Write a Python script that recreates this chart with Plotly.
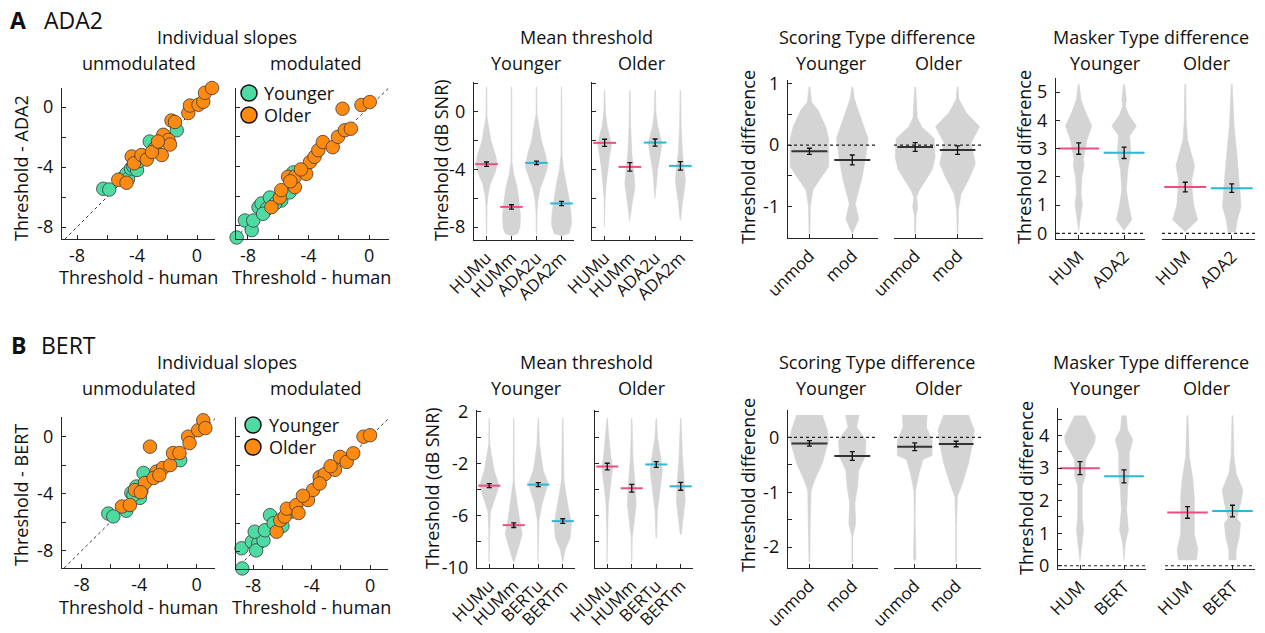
import plotly.graph_objects as go

W, H = 1265, 633
FONT = "Open Sans"
FS = 18
TXT = "#111111"
AX = "#262626"
GREEN = "#4ddba3"
ORANGE = "#ff8a12"
PINK = "#ea4f7f"
CYAN = "#28b8d8"
VGRAY = "#d4d4d4"
MEANGRAY = "#333333"

# ---------------- scatter data (x = human threshold, y = model threshold) -------------
A_unmod_young_x = [-6.25, -5.85, -4.95, -4.7, -4.6, -4.4, -4.25, -4.0, -3.85, -3.6, -3.15, -1.35]
A_unmod_young_y = [-5.45, -5.5, -4.75, -4.45, -4.8, -4.1, -3.95, -4.2, -3.6, -3.25, -2.3, -1.55]
A_unmod_old_x = [-5.25, -4.7, -4.35, -4.2, -3.7, -3.35, -2.8, -2.35, -2.25, -1.9, -1.8, -1.7, -1.47,
                 -0.58, -0.47, 0.1, 0.42, 0.53, 1.0, -3.0, -2.6]
A_unmod_old_y = [-4.85, -5.05, -3.3, -3.75, -3.2, -3.5, -2.75, -3.2, -1.85, -2.2, -2.5, -0.9, -1.0,
                 -0.4, 0.1, 0.15, 0.35, 0.95, 1.27, -3.0, -2.3]
A_mod_young_x = [-8.75, -8.8, -8.2, -7.75, -7.65, -7.3, -7.1, -6.75, -6.55, -5.8, -5.25, -5.0, -7.0, -6.2]
A_mod_young_y = [-8.8, -8.45, -7.65, -8.3, -7.65, -6.75, -6.5, -6.85, -6.1, -6.3, -5.75, -4.4, -7.2, -6.5]
A_mod_old_x = [-6.45, -5.9, -5.8, -5.35, -4.9, -4.9, -4.15, -3.9, -3.6, -3.35, -3.05, -2.4, -2.05,
               -1.6, -1.2, -1.75, -0.5, 0.05, -4.5, -5.2]
A_mod_old_y = [-6.75, -6.1, -5.6, -4.7, -5.4, -4.7, -4.5, -3.7, -3.35, -2.9, -2.35, -2.7, -2.0,
               -1.55, -1.45, -0.1, 0.15, 0.35, -4.2, -5.0]

B_unmod_young_x = [-6.15, -5.8, -4.9, -4.55, -3.95, -4.2, -3.7, -1.15, -4.4, -3.85]
B_unmod_young_y = [-5.4, -5.6, -5.2, -3.95, -4.3, -3.5, -2.55, -1.65, -4.1, -3.8]
B_unmod_old_x = [-5.2, -4.65, -4.3, -3.6, -3.25, -2.8, -2.35, -1.85, -1.65, -1.2, -0.6, -0.5, 0.1,
                 0.45, 0.6, 1.1, -3.0, -2.6, -3.9]
B_unmod_old_y = [-4.9, -4.8, -3.75, -3.25, -0.7, -2.45, -2.2, -2.0, -1.15, -1.15, 0.0, -0.45, 0.45,
                 1.15, 0.6, 1.4, -2.9, -2.7, -3.9]
B_mod_young_x = [-8.75, -8.8, -8.1, -7.65, -7.8, -7.3, -7.9, -7.2, -6.85, -6.0, -5.4, -6.6]
B_mod_young_y = [-9.15, -7.75, -7.3, -7.4, -7.9, -7.2, -6.6, -6.5, -5.45, -6.2, -5.2, -6.0]
B_mod_old_x = [-6.4, -6.15, -5.85, -5.7, -5.05, -4.9, -4.25, -3.9, -3.45, -3.1, -3.45, -2.4, -2.05,
               -1.6, -1.15, -0.45, 0.0, -4.6, -2.7]
B_mod_old_y = [-6.6, -5.8, -5.55, -5.0, -4.75, -5.3, -4.4, -3.7, -2.8, -2.6, -3.25, -2.3, -1.4,
               -1.75, -1.15, 0.0, 0.1, -4.1, -2.05]

# ---------------- category labels ----------------
A_mean_cats = ["HUMu", "HUMm", "ADA2u", "ADA2m"]
B_mean_cats = ["HUMu", "HUMm", "BERTu", "BERTm"]
score_cats = ["unmod", "mod"]
A_mask_cats = ["HUM", "ADA2"]
B_mask_cats = ["HUM", "BERT"]
legend_names = ["Younger", "Older"]

# ---------------- means and error bars ----------------
A_mean_young = [-3.63, -6.6, -3.54, -6.36]
A_mean_young_err = [0.15, 0.15, 0.12, 0.15]
A_mean_old = [-2.15, -3.82, -2.13, -3.75]
A_mean_old_err = [0.25, 0.3, 0.25, 0.3]
B_mean_young = [-3.68, -6.71, -3.6, -6.4]
B_mean_young_err = [0.15, 0.18, 0.15, 0.18]
B_mean_old = [-2.21, -3.88, -2.05, -3.73]
B_mean_old_err = [0.25, 0.3, 0.22, 0.3]
A_score_young = [-0.1, -0.24]
A_score_young_err = [0.05, 0.08]
A_score_old = [-0.03, -0.08]
A_score_old_err = [0.07, 0.07]
B_score_young = [-0.11, -0.34]
B_score_young_err = [0.05, 0.08]
B_score_old = [-0.17, -0.12]
B_score_old_err = [0.07, 0.05]
A_mask_young = [3.0, 2.85]
A_mask_young_err = [0.2, 0.2]
A_mask_old = [1.64, 1.6]
A_mask_old_err = [0.17, 0.15]
B_mask_young = [3.0, 2.75]
B_mask_young_err = [0.2, 0.2]
B_mask_old = [1.64, 1.68]
B_mask_old_err = [0.18, 0.18]

# ---------------- violin outlines: levels (y) and half-widths (category units) ----------------
A_mean_young_vy = [
    [1.75, -0.3, -1.0, -2.0, -3.0, -3.6, -4.2, -5.0, -5.8, -6.5, -8.5],
    [1.75, -3.5, -4.4, -5.2, -6.2, -7.2, -8.0, -8.45, -8.6],
    [1.75, -0.2, -1.0, -2.0, -3.0, -3.8, -4.5, -5.3, -6.2, -7.0, -8.5],
    [1.75, -3.0, -4.0, -5.0, -6.0, -7.0, -7.8, -8.45, -8.6]]
A_mean_young_vw = [
    [0.01, 0.02, 0.08, 0.18, 0.36, 0.43, 0.35, 0.15, 0.06, 0.02, 0.01],
    [0.01, 0.02, 0.1, 0.22, 0.3, 0.36, 0.34, 0.25, 0.0],
    [0.01, 0.02, 0.1, 0.2, 0.36, 0.45, 0.32, 0.15, 0.05, 0.02, 0.01],
    [0.01, 0.02, 0.08, 0.2, 0.3, 0.38, 0.4, 0.3, 0.0]]
A_mean_old_vy = [
    [1.5, 0.0, -1.0, -1.8, -2.3, -3.0, -4.0, -5.0, -6.0, -8.0],
    [1.5, -1.0, -2.9, -4.0, -5.0, -5.5, -6.2, -7.0, -7.6],
    [1.5, 0.0, -1.0, -1.8, -2.2, -3.0, -4.0, -5.0, -6.0],
    [1.5, -1.0, -2.8, -3.8, -4.8, -5.5, -6.3, -7.5]]
A_mean_old_vw = [
    [0.01, 0.03, 0.1, 0.22, 0.27, 0.2, 0.12, 0.06, 0.02, 0.01],
    [0.01, 0.03, 0.08, 0.15, 0.2, 0.18, 0.1, 0.04, 0.01],
    [0.01, 0.03, 0.1, 0.22, 0.27, 0.2, 0.1, 0.05, 0.01],
    [0.01, 0.03, 0.08, 0.15, 0.2, 0.15, 0.08, 0.01]]
B_mean_young_vy = [
    [1.5, -0.5, -1.0, -2.5, -3.7, -4.8, -5.7, -7.0, -9.5],
    [1.5, -3.3, -4.1, -6.1, -7.4, -8.7, -9.5],
    [1.5, -0.46, -1.5, -2.5, -3.5, -5.1, -6.4, -9.5],
    [1.5, -3.3, -5.1, -6.6, -7.7, -8.6, -9.5]]
B_mean_young_vw = [
    [0.01, 0.02, 0.06, 0.2, 0.4, 0.2, 0.05, 0.02, 0.01],
    [0.01, 0.02, 0.07, 0.22, 0.35, 0.15, 0.02],
    [0.01, 0.05, 0.12, 0.2, 0.4, 0.15, 0.03, 0.01],
    [0.01, 0.05, 0.2, 0.35, 0.3, 0.1, 0.01]]
B_mean_old_vy = [
    [1.5, 0.57, -1.5, -2.3, -3.85, -5.1, -7.0, -9.5],
    [1.5, -1.5, -3.85, -5.1, -6.4, -7.7, -9.5],
    [1.5, 0.06, -1.75, -2.5, -4.1, -5.6, -7.7],
    [1.5, -1.5, -3.6, -4.8, -6.1, -7.4]]
B_mean_old_vw = [
    [0.01, 0.04, 0.15, 0.22, 0.12, 0.05, 0.02, 0.01],
    [0.01, 0.05, 0.15, 0.18, 0.1, 0.02, 0.01],
    [0.01, 0.05, 0.2, 0.25, 0.15, 0.05, 0.01],
    [0.01, 0.07, 0.15, 0.18, 0.1, 0.02]]

A_score_young_vy = [
    [0.95, 0.7, 0.57, 0.3, 0.1, -0.35, -0.55, -0.73, -1.0, -1.43],
    [0.95, 0.75, 0.4, 0.11, -0.24, -0.55, -0.95, -1.2, -1.43]]
A_score_young_vw = [
    [0.01, 0.05, 0.2, 0.38, 0.45, 0.45, 0.25, 0.08, 0.02, 0.01],
    [0.01, 0.05, 0.22, 0.37, 0.3, 0.22, 0.07, 0.15, 0.01]]
A_score_old_vy = [
    [0.95, 0.45, 0.3, 0.11, -0.2, -0.4, -0.73, -0.85, -1.0, -1.15, -1.43],
    [0.95, 0.75, 0.53, 0.3, 0.04, -0.3, -0.5, -0.8, -1.05, -1.43]]
A_score_old_vw = [
    [0.01, 0.05, 0.15, 0.45, 0.47, 0.4, 0.1, 0.03, 0.06, 0.02, 0.01],
    [0.01, 0.03, 0.2, 0.52, 0.32, 0.42, 0.3, 0.08, 0.02, 0.01]]
B_score_young_vy = [
    [0.41, 0.13, -0.05, -0.47, -0.78, -0.97, -1.5, -2.26],
    [0.41, 0.19, -0.05, -0.35, -0.6, -0.9, -1.2, -1.57, -1.8, -2.26]]
B_score_young_vw = [
    [0.3, 0.42, 0.45, 0.3, 0.12, 0.04, 0.02, 0.01],
    [0.16, 0.1, 0.32, 0.3, 0.15, 0.12, 0.06, 0.08, 0.01, 0.01]]
B_score_old_vy = [
    [0.41, 0.19, -0.05, -0.33, -0.4, -0.66, -0.97, -1.5, -2.2, -2.26],
    [0.41, 0.13, -0.1, -0.47, -0.84, -1.08, -1.6, -2.26]]
B_score_old_vw = [
    [0.3, 0.28, 0.42, 0.42, 0.2, 0.1, 0.02, 0.01, 0.03, 0.0],
    [0.3, 0.44, 0.4, 0.3, 0.15, 0.03, 0.01, 0.01]]

A_mask_young_vy = [
    [5.28, 4.74, 4.3, 3.8, 3.3, 2.61, 2.42, 2.0, 1.42, 1.0, 0.48, 0.1],
    [5.28, 4.75, 4.5, 4.2, 3.8, 3.45, 2.85, 2.25, 1.54, 1.0, 0.48, 0.1]]
A_mask_young_vw = [
    [0.01, 0.05, 0.15, 0.29, 0.18, 0.1, 0.12, 0.07, 0.05, 0.08, 0.03, 0.0],
    [0.01, 0.05, 0.03, 0.1, 0.27, 0.12, 0.15, 0.08, 0.05, 0.1, 0.17, 0.0]]
A_mask_old_vy = [
    [5.28, 4.0, 3.3, 2.4, 1.9, 1.5, 1.0, 0.48, 0.06],
    [5.28, 3.8, 2.61, 1.9, 1.42, 0.95, 0.48, 0.06]]
A_mask_old_vw = [
    [0.01, 0.02, 0.05, 0.2, 0.14, 0.15, 0.18, 0.27, 0.0],
    [0.01, 0.05, 0.12, 0.15, 0.18, 0.2, 0.12, 0.08]]
B_mask_young_vy = [
    [4.62, 3.98, 3.77, 3.26, 2.75, 2.44, 1.5, 1.1, 0.5, 0.14],
    [4.62, 4.18, 3.88, 3.46, 2.84, 2.33, 1.72, 1.1, 0.7, 0.18]]
B_mask_young_vw = [
    [0.12, 0.35, 0.33, 0.12, 0.12, 0.05, 0.05, 0.08, 0.03, 0.0],
    [0.05, 0.08, 0.2, 0.12, 0.12, 0.08, 0.06, 0.1, 0.03, 0.0]]
B_mask_old_vy = [
    [4.62, 3.36, 2.64, 2.12, 1.5, 0.99, 0.5, 0.18],
    [4.62, 3.4, 2.84, 2.33, 1.92, 1.46, 1.31, 0.89, 0.48, 0.18]]
B_mask_old_vw = [
    [0.01, 0.04, 0.12, 0.15, 0.15, 0.15, 0.23, 0.2],
    [0.01, 0.03, 0.08, 0.23, 0.18, 0.1, 0.18, 0.15, 0.08, 0.08]]

# ---------------- layout helpers ----------------
fig = go.Figure()
layout = {"shapes": []}


def ax_names(k):
    return ("x" if k == 1 else f"x{k}"), ("y" if k == 1 else f"y{k}")


def ax_keys(k):
    return ("xaxis" if k == 1 else f"xaxis{k}"), ("yaxis" if k == 1 else f"yaxis{k}")


def make_axes(k, box, xr, yr, xt, xtt, yt, ytt, show_y=True, xangle=0):
    x0, x1, y0, y1 = box
    xk, yk = ax_keys(k)
    xn, yn = ax_names(k)
    base = dict(showgrid=False, zeroline=False, linecolor=AX, linewidth=1.4,
                ticks="inside", ticklen=4, tickcolor=AX, tickwidth=1.2, automargin=False,
                tickfont=dict(family=FONT, size=FS, color=TXT))
    xfont = dict(family=FONT, size=FS if xangle == 0 else 17, color=TXT)
    layout[xk] = dict(base, domain=[x0 / W, x1 / W], range=xr, anchor=yn,
                      showline=True, tickmode="array", tickvals=xt, ticktext=xtt,
                      tickangle=xangle, ticklabelstandoff=0, tickfont=xfont)
    layout[yk] = dict(base, domain=[1 - y1 / H, 1 - y0 / H], range=yr, anchor=xn,
                      showline=show_y, tickmode="array", tickvals=yt if show_y else [],
                      ticktext=ytt if show_y else [], ticklabelstandoff=4)


def scatter_panel(k, young_x, young_y, old_x, old_y, xr, yr):
    xn, yn = ax_names(k)
    lo = max(xr[0], yr[0])
    hi = min(xr[1], yr[1])
    fig.add_trace(go.Scatter(x=[lo, hi], y=[lo, hi], mode="lines", xaxis=xn, yaxis=yn,
                             line=dict(color="#333333", width=1, dash="dot"),
                             showlegend=False, hoverinfo="skip"))
    for xs, ys, col in [(young_x, young_y, GREEN), (old_x, old_y, ORANGE)]:
        fig.add_trace(go.Scatter(x=xs, y=ys, mode="markers", xaxis=xn, yaxis=yn, cliponaxis=False,
                                 marker=dict(size=13.5, color=col,
                                             line=dict(color="#3a3a3a", width=0.8)),
                                 showlegend=False))


def violin_panel(k, vys, vws, means, errs, colors, hw):
    xn, yn = ax_names(k)
    for i, (ys, ws) in enumerate(zip(vys, vws)):
        c = i + 1
        xs = [c + w for w in ws] + [c - w for w in reversed(ws)]
        yy = list(ys) + list(reversed(ys))
        fig.add_trace(go.Scatter(x=xs, y=yy, mode="lines", fill="toself", fillcolor=VGRAY,
                                 line=dict(width=0.6, color=VGRAY), xaxis=xn, yaxis=yn,
                                 showlegend=False, hoverinfo="skip"))
    for i, (m, col) in enumerate(zip(means, colors)):
        c = i + 1
        fig.add_trace(go.Scatter(x=[c - hw, c + hw], y=[m, m], mode="lines",
                                 line=dict(color=col, width=2), xaxis=xn, yaxis=yn,
                                 showlegend=False, hoverinfo="skip"))
    fig.add_trace(go.Scatter(x=list(range(1, len(means) + 1)), y=means, mode="markers",
                             marker=dict(size=1, color="rgba(0,0,0,0)"),
                             error_y=dict(type="data", array=errs, color="#111111",
                                          thickness=1.3, width=2.5),
                             xaxis=xn, yaxis=yn, showlegend=False, hoverinfo="skip"))


def zero_line(k):
    xn, yn = ax_names(k)
    layout["shapes"].append(
        dict(type="line", xref=f"{xn} domain", yref=yn, x0=0, x1=1, y0=0, y1=0,
             line=dict(color="#222222", width=1.2, dash="dot"), layer="above"))


sc_ticks = [-8, -6, -4, -2, 0]
sc_text = ["-8", "", "-4", "", "0"]
blank5 = [""] * 5

# ================= ROW A =================
make_axes(1, (62, 215, 88, 239), [-9, 1.2], [-8.8, 1.27], sc_ticks, sc_text, sc_ticks, sc_text)
scatter_panel(1, A_unmod_young_x, A_unmod_young_y, A_unmod_old_x, A_unmod_old_y, [-9, 1.2], [-8.8, 1.27])
make_axes(2, (236, 389, 88, 239), [-8.79, 1.32], [-8.9, 1.3], sc_ticks, sc_text, sc_ticks, blank5)
scatter_panel(2, A_mod_young_x, A_mod_young_y, A_mod_old_x, A_mod_old_y, [-8.79, 1.32], [-8.9, 1.3])

mt_A = [-8, -6, -4, -2, 0, 2]
make_axes(3, (474, 574, 82, 240), [0.5, 4.5], [-8.9, 2.08], [1, 2, 3, 4], A_mean_cats,
          mt_A, ["-8", "", "-4", "", "0", ""], xangle=-45)
violin_panel(3, A_mean_young_vy, A_mean_young_vw, A_mean_young, A_mean_young_err,
             [PINK, PINK, CYAN, CYAN], 0.45)
make_axes(4, (592, 693, 82, 240), [0.5, 4.5], [-8.9, 2.08], [1, 2, 3, 4], A_mean_cats,
          mt_A, [""] * 6, xangle=-45)
violin_panel(4, A_mean_old_vy, A_mean_old_vw, A_mean_old, A_mean_old_err,
             [PINK, PINK, CYAN, CYAN], 0.45)

st_A = [-1.5, -1, -0.5, 0, 0.5, 1]
make_axes(5, (788, 878, 80, 238), [0.5, 2.6], [-1.51, 1.06], [1, 2], score_cats,
          st_A, ["", "-1", "", "0", "", "1"], xangle=-45)
violin_panel(5, A_score_young_vy, A_score_young_vw, A_score_young, A_score_young_err,
             [MEANGRAY, MEANGRAY], 0.42)
zero_line(5)
make_axes(6, (894, 983, 80, 238), [0.5, 2.6], [-1.51, 1.06], [1, 2], score_cats,
          st_A, [""] * 6, show_y=False, xangle=-45)
violin_panel(6, A_score_old_vy, A_score_old_vw, A_score_old, A_score_old_err,
             [MEANGRAY, MEANGRAY], 0.42)
zero_line(6)

mk_A = [0, 1, 2, 3, 4, 5]
make_axes(7, (1056, 1145, 78, 239), [0.5, 2.46], [-0.2, 5.5], [1, 2], A_mask_cats,
          mk_A, [str(v) for v in mk_A], xangle=-45)
violin_panel(7, A_mask_young_vy, A_mask_young_vw, A_mask_young, A_mask_young_err,
             [PINK, CYAN], 0.45)
zero_line(7)
make_axes(8, (1162, 1255, 78, 239), [0.5, 2.5], [-0.2, 5.5], [1, 2], A_mask_cats,
          mk_A, [""] * 6, show_y=False, xangle=-45)
violin_panel(8, A_mask_old_vy, A_mask_old_vw, A_mask_old, A_mask_old_err,
             [PINK, CYAN], 0.45)
zero_line(8)

# ================= ROW B =================
make_axes(9, (62, 215, 417, 568), [-9.37, 1.27], [-9.22, 1.38], sc_ticks, sc_text, sc_ticks, sc_text)
scatter_panel(9, B_unmod_young_x, B_unmod_young_y, B_unmod_old_x, B_unmod_old_y, [-9.37, 1.27], [-9.22, 1.38])
make_axes(10, (236, 388, 417, 569), [-9.18, 1.23], [-9.19, 1.37], sc_ticks, sc_text, sc_ticks, blank5)
scatter_panel(10, B_mod_young_x, B_mod_young_y, B_mod_old_x, B_mod_old_y, [-9.18, 1.23], [-9.19, 1.37])

mt_B = [-10, -8, -6, -4, -2, 0, 2]
make_axes(11, (477, 575, 410, 568), [0.5, 4.5], [-10, 2.13], [1, 2, 3, 4], B_mean_cats,
          mt_B, ["-10", "", "-6", "", "-2", "", "2"], xangle=-45)
violin_panel(11, B_mean_young_vy, B_mean_young_vw, B_mean_young, B_mean_young_err,
             [PINK, PINK, CYAN, CYAN], 0.45)
make_axes(12, (595, 693, 410, 568), [0.5, 4.5], [-10, 2.13], [1, 2, 3, 4], B_mean_cats,
          mt_B, [""] * 7, xangle=-45)
violin_panel(12, B_mean_old_vy, B_mean_old_vw, B_mean_old, B_mean_old_err,
             [PINK, PINK, CYAN, CYAN], 0.45)

st_B = [-2, -1.5, -1, -0.5, 0, 0.5]
make_axes(13, (788, 878, 410, 568), [0.5, 2.6], [-2.38, 0.5], [1, 2], score_cats,
          st_B, ["-2", "", "-1", "", "0", ""], xangle=-45)
violin_panel(13, B_score_young_vy, B_score_young_vw, B_score_young, B_score_young_err,
             [MEANGRAY, MEANGRAY], 0.42)
zero_line(13)
make_axes(14, (894, 981, 410, 568), [0.5, 2.6], [-2.38, 0.5], [1, 2], score_cats,
          st_B, [""] * 6, show_y=False, xangle=-45)
violin_panel(14, B_score_old_vy, B_score_old_vw, B_score_old, B_score_old_err,
             [MEANGRAY, MEANGRAY], 0.42)
zero_line(14)

mk_B = [0, 0.5, 1, 1.5, 2, 2.5, 3, 3.5, 4, 4.5]
mk_B_text = ["0", "", "1", "", "2", "", "3", "", "4", ""]
make_axes(15, (1058, 1146, 408, 569), [0.5, 2.5], [-0.1, 4.85], [1, 2], B_mask_cats,
          mk_B, mk_B_text, xangle=-45)
violin_panel(15, B_mask_young_vy, B_mask_young_vw, B_mask_young, B_mask_young_err,
             [PINK, CYAN], 0.45)
zero_line(15)
make_axes(16, (1165, 1255, 408, 569), [0.5, 2.5], [-0.1, 4.85], [1, 2], B_mask_cats,
          mk_B, [""] * 10, show_y=False, xangle=-45)
violin_panel(16, B_mask_old_vy, B_mask_old_vw, B_mask_old, B_mask_old_err,
             [PINK, CYAN], 0.45)
zero_line(16)

# ---------------- text annotations ----------------
ann = []


def text(x, y, s, size=FS, bold=False, angle=0, anchor="center"):
    ann.append(dict(x=x / W, y=1 - y / H, xref="paper", yref="paper", text=f"<b>{s}</b>" if bold else s,
                    showarrow=False, xanchor=anchor, yanchor="middle", textangle=angle,
                    font=dict(family=FONT, size=size, color=TXT)))


# ---------------- legend keys (drawn as paper-positioned keys) ----------------
for (cx, ty, tx) in [(249, 93, 262), (253, 425, 267)]:
    for j, (name, col) in enumerate(zip(legend_names, [GREEN, ORANGE])):
        cy = ty + j * 22
        layout["shapes"].append(dict(type="circle", xref="paper", yref="paper",
                                     x0=(cx - 8) / W, x1=(cx + 8) / W,
                                     y0=1 - (cy + 8) / H, y1=1 - (cy - 8) / H,
                                     fillcolor=col, line=dict(color="#111111", width=1.5)))
        text(tx, cy, name, anchor="left")

for dy, letter, model, mx in [(0, "A", "ADA2", 73), (325, "B", "BERT", 68)]:
    text(18, 20 + dy, letter, size=23, bold=True)
    text(mx, 20 + dy, model, size=23)
    text(227, 37 + dy, "Individual slopes")
    text(139, 63 + dy, "unmodulated")
    text(316, 63 + dy, "modulated")
    text(586, 37 + dy, "Mean threshold")
    text(526, 63 + dy, "Younger")
    text(642, 63 + dy, "Older")
    text(877, 37 + dy, "Scoring Type difference")
    text(831, 63 + dy, "Younger")
    text(939, 63 + dy, "Older")
    text(1151, 37 + dy, "Masker Type difference")
    text(1105, 63 + dy, "Younger")
    text(1207, 63 + dy, "Older")
    text(138, 277 + dy + (5 if dy else 0), "Threshold - human")
    text(311, 277 + dy + (5 if dy else 0), "Threshold - human")

text(21, 168, "Threshold - ADA2", angle=-90)
text(441, 160, "Threshold (dB SNR)", angle=-90)
text(748, 157, "Threshold difference", angle=-90)
text(1024, 157, "Threshold difference", angle=-90)
text(21, 495, "Threshold - BERT", angle=-90)
text(432, 488, "Threshold (dB SNR)", angle=-90)
text(748, 485, "Threshold difference", angle=-90)
text(1026, 488, "Threshold difference", angle=-90)

layout["annotations"] = ann
layout.update(width=W, height=H, margin=dict(l=0, r=0, t=0, b=0, autoexpand=False),
              plot_bgcolor="white", paper_bgcolor="white", showlegend=False,
              font=dict(family=FONT, size=FS, color=TXT))
fig.update_layout(**layout)
fig.write_html("out.html")
